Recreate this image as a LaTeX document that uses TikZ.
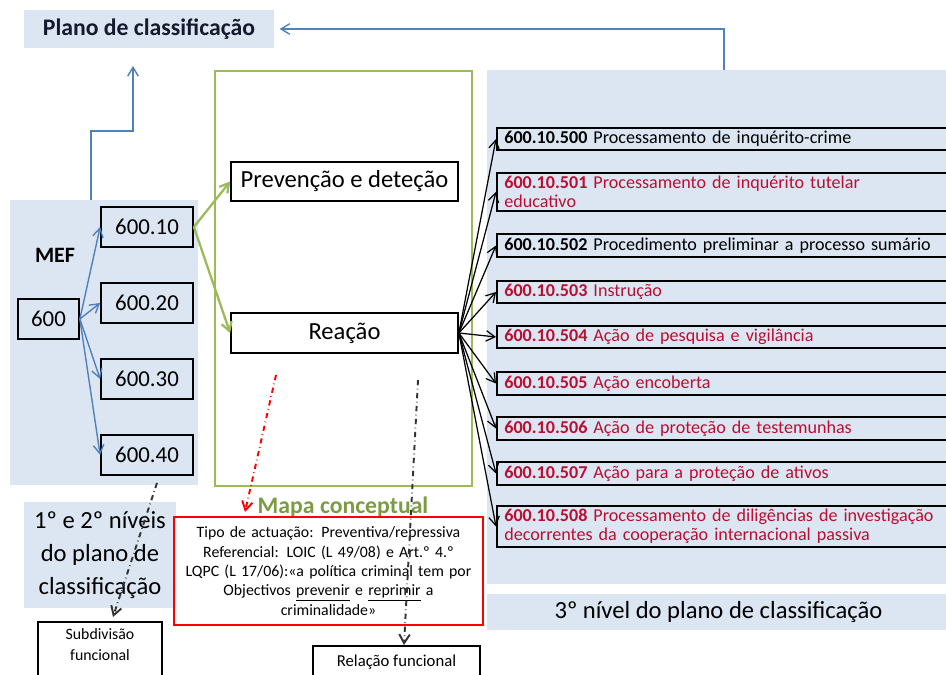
\documentclass[tikz,border=0pt]{standalone}
\usepackage{fontspec}
\setmainfont{Carlito}
\usetikzlibrary{arrows.meta}
\definecolor{bluebg}{RGB}{220,230,242}
\definecolor{blueline}{RGB}{79,129,189}
\definecolor{greenline}{RGB}{155,187,89}
\definecolor{mapagreen}{RGB}{125,155,65}
\definecolor{itemred}{RGB}{185,15,50}
\definecolor{navytext}{RGB}{20,25,45}

\begin{document}
\begin{tikzpicture}[x=0.02cm, y=-0.02cm,
  >={Straight Barb[length=5pt, width=6pt]},
  box/.style={draw, line width=1pt, inner sep=2pt},
  bluebox/.style={fill=bluebg, inner sep=2pt},
  code/.style={box, minimum width=1.84cm, minimum height=0.8cm, font=\fontsize{13}{15}\selectfont},
  item/.style={box, fill=bluebg, anchor=west, minimum width=9.08cm, text width=8.78cm, align=left, font=\fontsize{10.3}{10.8}\selectfont},
  red item/.style={item, text=itemred},
  blue arrow/.style={->, draw=blueline, line width=0.8pt},
  green arrow/.style={->, draw=greenline, line width=1.3pt},
  black arrow/.style={->, line width=0.7pt},
  dash arrow/.style={->, dash dot, line width=1.1pt}]
  \useasboundingbox (0,0) rectangle (946,675);

  % backgrounds
  \node[bluebox, minimum width=3.76cm, minimum height=5.7cm] (mefbg) at (104,342.5) {};
  \node[bluebox, minimum width=9.26cm, minimum height=10.28cm] (level3bg) at (718.5,327) {};
  \node[draw=greenline, line width=0.9pt, minimum width=5.14cm, minimum height=8.3cm] (mapabg) at (343.5,278.5) {};

  % plano de classificacao
  \node[bluebox, text=navytext, minimum width=5cm, minimum height=0.76cm, font=\bfseries\fontsize{13.5}{15}\selectfont] (plano) at (149,29) {Plano de classificação};
  \coordinate (planoin) at (133,66);

  % 1st and 2nd levels
  \node[font=\bfseries\fontsize{12.5}{14}\selectfont] (mef) at (55,255) {MEF};
  \node[box, minimum width=1.22cm, minimum height=0.8cm, font=\fontsize{13}{15}\selectfont] (c600) at (48.5,319) {600};
  \node[code] (c10) at (147,227) {600.10};
  \node[code] (c20) at (147,303) {600.20};
  \node[code] (c30) at (147,379) {600.30};
  \node[code] (c40) at (147,455) {600.40};
  \node[bluebox, minimum width=3.04cm, minimum height=2.12cm, align=center, font=\fontsize{14}{19}\selectfont] (level12) at (100,555) {1º e 2º níveis\\do plano de\\classificação};
  \node[box, anchor=north, text width=2.2cm, align=center, inner sep=4pt, text depth=1cm, font=\fontsize{9}{12}\selectfont] (subdiv) at (100,621) {Subdivisão\\funcional};

  % mapa conceptual
  \node[box, minimum width=4.54cm, minimum height=0.78cm, font=\fontsize{14}{16}\selectfont] (prev) at (344.5,181.5) {Prevenção e deteção};
  \node[box, minimum width=4.54cm, minimum height=0.8cm, font=\fontsize{14}{16}\selectfont] (reacao) at (344.5,333) {Reação};
  \node[text=mapagreen, font=\bfseries\fontsize{13.5}{15}\selectfont] (mapa) at (343,507) {Mapa conceptual};
  \node[draw=red, line width=1pt, minimum width=6.06cm, minimum height=2.16cm, text width=5.95cm, align=center, font=\fontsize{9}{11}\selectfont] (ref) at (328.5,571)
    {Tipo de actuação: Preventiva/repressiva\\Referencial: LOIC (L 49/08) e Art.º 4.º\\LQPC (L 17/06):«a política criminal tem por\\Objectivos \underline{prevenir} e \underline{reprimir} a\\criminalidade»};
  \node[box, anchor=north, minimum width=3.34cm, inner sep=5pt, text depth=1cm, font=\fontsize{9.5}{12}\selectfont] (relacao) at (396.5,645) {Relação funcional};
  \coordinate (redfrom) at (276,375);
  \coordinate (redto) at (245,512);
  \coordinate (relfrom) at (418,380);

  % 3rd level
  \node[item] (i500) at (496,139) {\textbf{600.10.500} Processamento de inquérito-crime};
  \node[red item] (i501) at (496,192) {\textbf{600.10.501} Processamento de inquérito tutelar\\educativo};
  \node[item] (i502) at (496,245.5) {\textbf{600.10.502} Procedimento preliminar a processo sumário};
  \node[red item] (i503) at (496,292) {\textbf{600.10.503} Instrução};
  \node[red item] (i504) at (496,337) {\textbf{600.10.504} Ação de pesquisa e vigilância};
  \node[red item] (i505) at (496,383.5) {\textbf{600.10.505} Ação encoberta};
  \node[red item] (i506) at (496,428.5) {\textbf{600.10.506} Ação de proteção de testemunhas};
  \node[red item] (i507) at (496,473.5) {\textbf{600.10.507} Ação para a proteção de ativos};
  \node[red item] (i508) at (496,526.5) {\textbf{600.10.508} Processamento de diligências de investigação\\decorrentes da cooperação internacional passiva};
  \node[bluebox, minimum width=9.26cm, minimum height=0.72cm, font=\fontsize{14}{16}\selectfont] (level3) at (718.5,612) {3º nível do plano de classificação};

  % connectors
  \draw[blue arrow] ([xshift=-0.26cm]mefbg.north) |- (133,131) -- (planoin);
  \draw[blue arrow, shorten >=3pt] ([xshift=0.11cm]level3bg.north) |- (plano.east);
  \draw[blue arrow] (c600.east) -- (c10.west);
  \draw[blue arrow] (c600.east) -- (c20.west);
  \draw[blue arrow] (c600.east) -- (c30.west);
  \draw[blue arrow] (c600.east) -- (c40.west);
  \draw[green arrow] (c10.east) -- (prev.west);
  \draw[green arrow] (c10.east) -- (reacao.west);
  \draw[black arrow] (reacao.east) -- (i500.west);
  \draw[black arrow] (reacao.east) -- (i501.west);
  \draw[black arrow] (reacao.east) -- (i502.west);
  \draw[black arrow] (reacao.east) -- (i503.west);
  \draw[black arrow] (reacao.east) -- (i504.west);
  \draw[black arrow] (reacao.east) -- (i505.west);
  \draw[black arrow] (reacao.east) -- (i506.west);
  \draw[black arrow] (reacao.east) -- (i507.west);
  \draw[black arrow] (reacao.east) -- (i508.west);
  \draw[dash arrow, red] (redfrom) -- (redto);
  \draw[dash arrow, black!80] (relfrom) -- ([xshift=0.15cm]relacao.north);
  \draw[dash arrow, black!80] ([xshift=0.2cm, yshift=-0.14cm]c40.south) -- ([xshift=0.26cm, yshift=0.08cm]subdiv.north);
\end{tikzpicture}
\end{document}
